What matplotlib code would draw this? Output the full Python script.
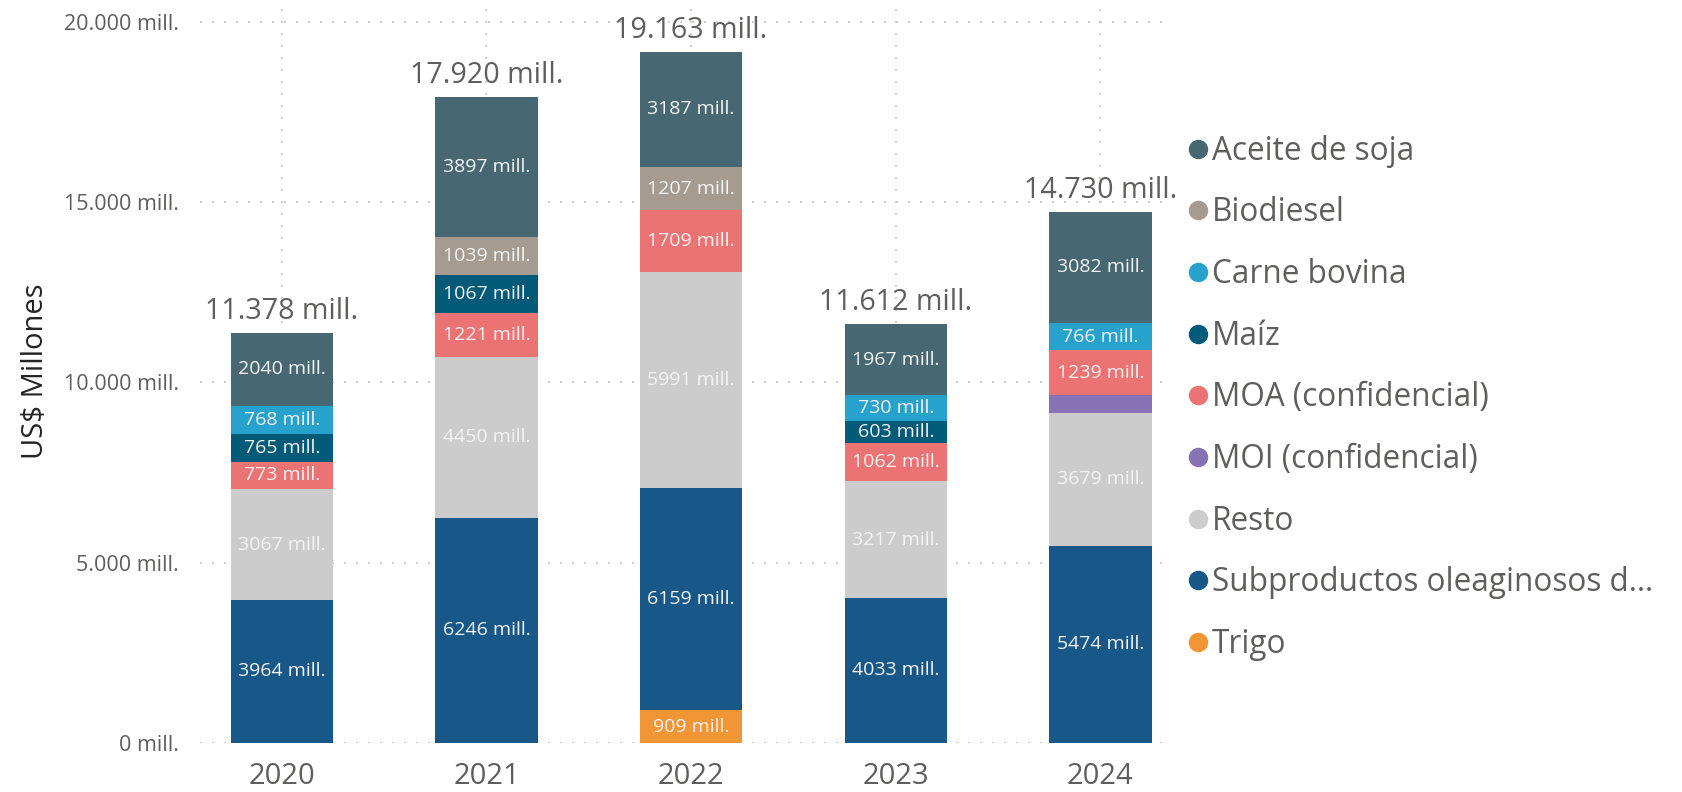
import matplotlib
matplotlib.use("Agg")
from matplotlib import pyplot as plt
from matplotlib.lines import Line2D
import numpy as np

plt.rcParams['font.family'] = ['Open Sans', 'DejaVu Sans']

years = ['2020', '2021', '2022', '2023', '2024']

# series, bottom to top of each bar
trigo = [0, 0, 909, 0, 0]
subproductos = [3964, 6246, 6159, 4033, 5474]
resto = [3067, 4450, 5991, 3217, 3679]
moi = [0, 0, 0, 0, 490]
moa = [773, 1221, 1709, 1062, 1239]
maiz = [765, 1067, 0, 603, 0]
carne = [768, 0, 0, 730, 766]
biodiesel = [0, 1039, 1207, 0, 0]
aceite = [2040, 3897, 3187, 1967, 3082]

totals = [11378, 17920, 19163, 11612, 14730]

series = [
    ('Trigo', trigo, '#F29534'),
    ('Subproductos oleaginosos d...', subproductos, '#175889'),
    ('Resto', resto, '#CCCCCC'),
    ('MOI (confidencial)', moi, '#8672B5'),
    ('MOA (confidencial)', moa, '#EB7373'),
    ('Maíz', maiz, '#015A78'),
    ('Carne bovina', carne, '#27A2CD'),
    ('Biodiesel', biodiesel, '#A59B90'),
    ('Aceite de soja', aceite, '#476872'),
]

def fmt(v):
    return f"{v:,.0f}".replace(',', '.') + " mill."

grey = '#605E5C'
grid_style = dict(color='#C8C6C4', linewidth=1.2, linestyle=(0, (1.2, 6)))

fig = plt.figure(figsize=(16.83, 7.92), dpi=100)
ax = fig.add_axes([0.1188, 0.0619, 0.5776, 0.9381])

x = np.arange(len(years))
bottom = np.zeros(len(years))
for name, vals, col in series:
    vals = np.array(vals, dtype=float)
    ax.bar(x, vals, 0.5, bottom=bottom, color=col, zorder=2)
    for i, v in enumerate(vals):
        if v >= 500:
            ax.text(x[i], bottom[i] + v / 2, f"{int(v)} mill.", ha='center',
                    va='center', fontsize=14, color='#F3F3F3', zorder=3)
    bottom += vals

for i, t in enumerate(totals):
    ax.annotate(fmt(t), (x[i], bottom[i]), xytext=(0, 5), textcoords='offset points',
                ha='center', va='bottom', fontsize=20.6, color=grey)

ax.set_xlim(-0.40, 4.35)
ax.set_ylim(0, 20600)
ax.set_yticks([0, 5000, 10000, 15000, 20000])
ax.set_yticklabels([fmt(v) for v in [0, 5000, 10000, 15000, 20000]])
ax.set_xticks(x)
ax.set_xticklabels(years)
ax.tick_params(axis='y', length=0, pad=15, labelsize=15.5, labelcolor=grey)
ax.tick_params(axis='x', length=0, pad=14, labelsize=21, labelcolor=grey)
for s in ax.spines.values():
    s.set_visible(False)
ax.grid(True, axis='both', **grid_style)
ax.set_axisbelow(True)

ax.set_ylabel('US$ Millones', fontsize=21, color='#252423', labelpad=10)

handles = [Line2D([], [], marker='o', linestyle='none', markersize=13,
                  markerfacecolor=col, markeredgecolor=col)
           for name, vals, col in reversed(series)]
labels = [name for name, vals, col in reversed(series)]
fig.legend(handles, labels, loc='upper left', bbox_to_anchor=(0.7064, 0.830),
           frameon=False, fontsize=22.7, labelcolor=grey, handlelength=0.6,
           handletextpad=0.12, labelspacing=0.91, borderaxespad=0, borderpad=0)

fig.savefig('out.png', dpi=100)
